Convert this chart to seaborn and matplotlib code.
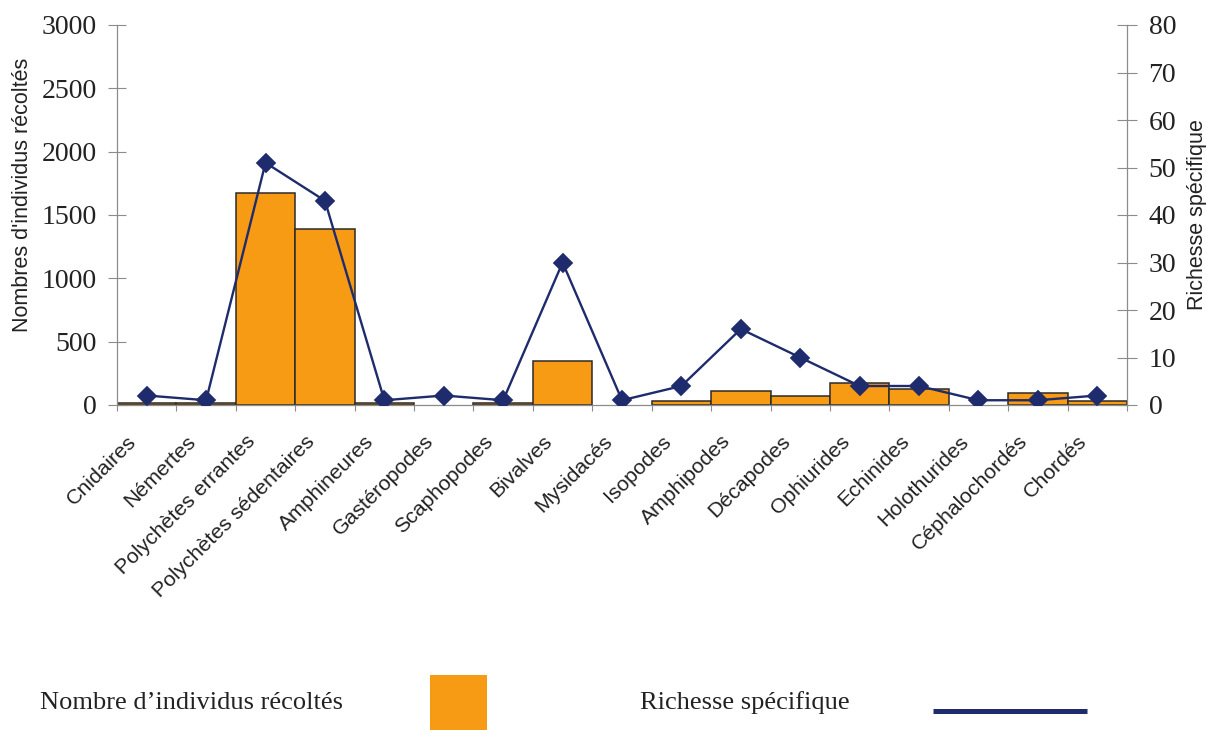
import numpy as np
import pandas as pd
import matplotlib
matplotlib.use("Agg")
import matplotlib.pyplot as plt
import matplotlib.transforms as mtransforms
from matplotlib.patches import Rectangle
from matplotlib.lines import Line2D
import seaborn as sns

# Groupes zoologiques récoltés
groupes = [
    "Cnidaires", "Némertes", "Polychètes errantes", "Polychètes sédentaires",
    "Amphineures", "Gastéropodes", "Scaphopodes", "Bivalves", "Mysidacés",
    "Isopodes", "Amphipodes", "Décapodes", "Ophiurides", "Echinides",
    "Holothurides", "Céphalochordés", "Chordés",
]
# Nombre d'individus récoltés par groupe (axe de gauche)
individus = [15, 15, 1675, 1390, 15, 0, 15, 350, 0, 30, 110, 75, 175, 130, 0, 95, 35]
# Richesse spécifique par groupe (axe de droite)
richesse = [2, 1, 51, 43, 1, 2, 1, 30, 1, 4, 16, 10, 4, 4, 1, 1, 2]

ticks_gauche = [0, 500, 1000, 1500, 2000, 2500, 3000]
ticks_droite = [0, 10, 20, 30, 40, 50, 60, 70, 80]

ORANGE = "#F79A14"
BORD = "#2B2B2B"
MARINE = "#1E2B6C"
GRIS = "#8C8C8C"
TEXTE = "#222222"
SERIF = ["Liberation Serif", "DejaVu Serif"]

sns.set_theme(style="white")
plt.rcParams["font.family"] = ["Liberation Sans", "DejaVu Sans"]

W, H = 1206, 730
fig = plt.figure(figsize=(W / 100, H / 100), dpi=100)
fig.patch.set_facecolor("white")
ax = fig.add_axes([117 / W, 1 - 405 / H, 1010 / W, 380 / H])

df = pd.DataFrame({"groupe": groupes, "individus": individus, "richesse": richesse})

sns.barplot(data=df, x="groupe", y="individus", order=groupes, width=1.0,
            color=ORANGE, saturation=1, edgecolor=BORD, linewidth=1.1,
            errorbar=None, ax=ax)
# pas de contour pour les groupes sans individus
for p in ax.patches:
    if p.get_height() == 0:
        p.set_linewidth(0)

ax2 = ax.twinx()
sns.pointplot(data=df, x="groupe", y="richesse", order=groupes, color=MARINE,
              markers="D", linestyles="-", errorbar=None, markersize=8.8,
              linewidth=1.7, ax=ax2)

# Axe de gauche
ax.set_ylim(0, 3000)
ax.set_yticks(ticks_gauche)
ax.set_xlim(-0.5, len(groupes) - 0.5)
ax.set_xlabel("")
ax.set_ylabel("Nombres d'individus récoltés", fontsize=15.5, color=TEXTE)
ax.yaxis.set_label_coords(-0.083, 0.553)
ax.tick_params(axis="y", which="major", direction="inout", length=13, width=0.8,
               color=GRIS, pad=8, labelsize=20, labelcolor=TEXTE,
               labelfontfamily="Liberation Serif", left=True, right=False)

# Axe des catégories : graduations entre les barres, étiquettes inclinées
ax.set_xticks(np.arange(len(groupes)))
ax.set_xticklabels(groupes, rotation=45, ha="right", va="center",
                   rotation_mode="anchor", fontsize=15.3, color=TEXTE)
ax.set_xticks(np.arange(-0.5, len(groupes), 1.0), minor=True)
ax.tick_params(axis="x", which="major", length=0, pad=24, bottom=True)
ax.tick_params(axis="x", which="minor", direction="out", length=4.5, width=0.8,
               color=GRIS, bottom=True)

# Axe de droite
ax2.set_ylim(0, 80)
ax2.set_yticks(ticks_droite)
ax2.set_xlabel("")
ax2.set_ylabel("Richesse spécifique", fontsize=15.5, color=TEXTE, rotation=90,
               labelpad=8)
ax2.tick_params(axis="y", which="major", direction="inout", length=15, width=0.8,
                color=GRIS, pad=8, labelsize=20, labelcolor=TEXTE,
                labelfontfamily="Liberation Serif", right=True, left=False)

for s in ["top", "right"]:
    ax.spines[s].set_visible(False)
for s in ["left", "bottom"]:
    ax.spines[s].set_color(GRIS)
    ax.spines[s].set_linewidth(0.9)
for s in ["top", "left", "bottom"]:
    ax2.spines[s].set_visible(False)
ax2.spines["right"].set_color(GRIS)
ax2.spines["right"].set_linewidth(0.9)
ax.grid(False)
ax2.grid(False)

# Décalage des étiquettes de catégories vers la gauche
decalage = mtransforms.ScaledTranslation(-13 / 100, 0, fig.dpi_scale_trans)
for lbl in ax.get_xticklabels():
    lbl.set_transform(lbl.get_transform() + decalage)

# Légende en bas de figure
y_leg = 1 - 703 / H
fig.text(40 / W, y_leg, "Nombre d’individus récoltés", fontsize=19,
         family=SERIF, color=TEXTE, ha="left", va="center")
fig.add_artist(Rectangle((430 / W, 0), 57 / W, 55 / H, transform=fig.transFigure,
                         facecolor=ORANGE, edgecolor="none"))
fig.text(640 / W, y_leg, "Richesse spécifique", fontsize=19,
         family=SERIF, color=TEXTE, ha="left", va="center")
fig.add_artist(Line2D([933 / W, 1087 / W], [19 / H, 19 / H], transform=fig.transFigure,
                      color=MARINE, linewidth=3.6, solid_capstyle="butt"))

fig.savefig("out.png", dpi=100, facecolor="white")
